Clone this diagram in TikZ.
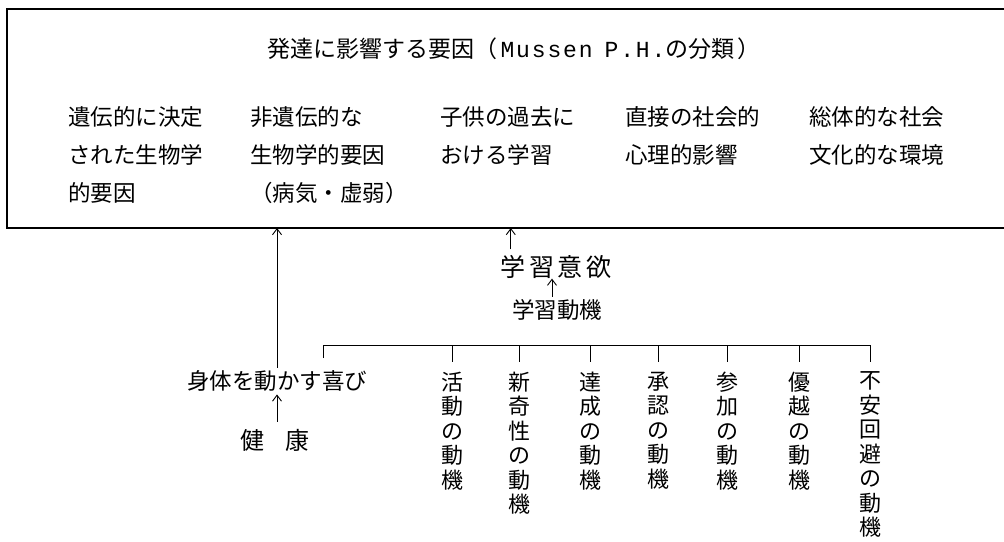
\documentclass[tikz,border=0pt]{standalone}
\usepackage{fontspec}
\setmainfont{Noto Sans CJK JP}
\newfontfamily\latfont[LetterSpace=8]{Liberation Mono}
\usetikzlibrary{arrows.meta}
\begin{document}
\begin{tikzpicture}[x=1pt,y=-1pt,
  every node/.style={inner sep=0pt, outer sep=0pt},
  body/.style={font=\fontsize{22.5}{38}\selectfont, align=left, anchor=north west},
  vlabel/.style={font=\fontsize{22}{24.5}\selectfont, align=center, anchor=north},
  arr/.style={-{Straight Barb[length=6pt,width=9pt]}, line width=0.9pt},
  conn/.style={line width=0.9pt}]
\useasboundingbox (0,0) rectangle (1004,541);
\node[draw, line width=1.2pt, anchor=north west, minimum width=1010pt, minimum height=219pt] (box) at (7,9) {};
\node[font=\fontsize{23}{23}\selectfont] (title) at (514,49)
  {発達に影響する要因（\hspace{3pt}{\latfont Mussen}\hspace{12pt}{\latfont P.H.}の分類\hspace{3pt}）};
\node[body] (g1) at (68,107) {遺伝的に決定\\された生物学\\的要因};
\node[body] (g2) at (250,107) {非遺伝的な\\生物学的要因\\（病気・虚弱）};
\node[body] (g3) at (440,107) {子供の過去に\\おける学習};
\node[body] (g4) at (625,107) {直接の社会的\\心理的影響};
\node[body] (g5) at (809,107) {総体的な社会\\文化的な環境};

\node[font=\fontsize{22.5}{22.5}\selectfont] (joy) at (277,381) {身体を動かす喜び};
\node[font=\fontsize{24}{24}\selectfont] (health) at (275,440) {健\hspace{21pt}康};
\node[font=\fontsize{25}{25}\selectfont] (will) at (556,267) {学\hspace{3.5pt}習\hspace{3.5pt}意\hspace{3.5pt}欲};
\node[font=\fontsize{22.5}{22.5}\selectfont] (motive) at (557,310) {学習動機};

\node[vlabel] (c1) at (452,372) {活\\動\\の\\動\\機};
\node[vlabel] (c2) at (519,372) {新\\奇\\性\\の\\動\\機};
\node[vlabel] (c3) at (590,372) {達\\成\\の\\動\\機};
\node[vlabel] (c4) at (658,372) {承\\認\\の\\動\\機};
\node[vlabel] (c5) at (727,372) {参\\加\\の\\動\\機};
\node[vlabel] (c6) at (799,372) {優\\越\\の\\動\\機};
\node[vlabel] (c7) at (870,372) {不\\安\\回\\避\\の\\動\\機};

\draw[arr] ([yshift=3pt]joy.north) -- (joy.north |- box.south);
\draw[arr, shorten <=7pt, shorten >=3pt] (joy.south |- health.north) -- (joy.south);
\draw[arr, shorten <=6pt] ([xshift=10pt]will.north west) -- ([xshift=10pt]will.north west |- box.south);
\draw[arr, shorten <=3pt] ([xshift=-5pt]motive.north) -- ([xshift=-5pt]motive.north |- will.south);

\coordinate (barL) at (323,345);
\coordinate (barR) at (870,345);
\draw[conn] ([yshift=-13pt]barL) -- (barL) -- (barR) -- ([yshift=10pt]c7.north);
\foreach \i in {1,...,6}
  \draw[conn] (c\i.north |- barL) -- ([yshift=10pt]c\i.north);
\end{tikzpicture}
\end{document}
